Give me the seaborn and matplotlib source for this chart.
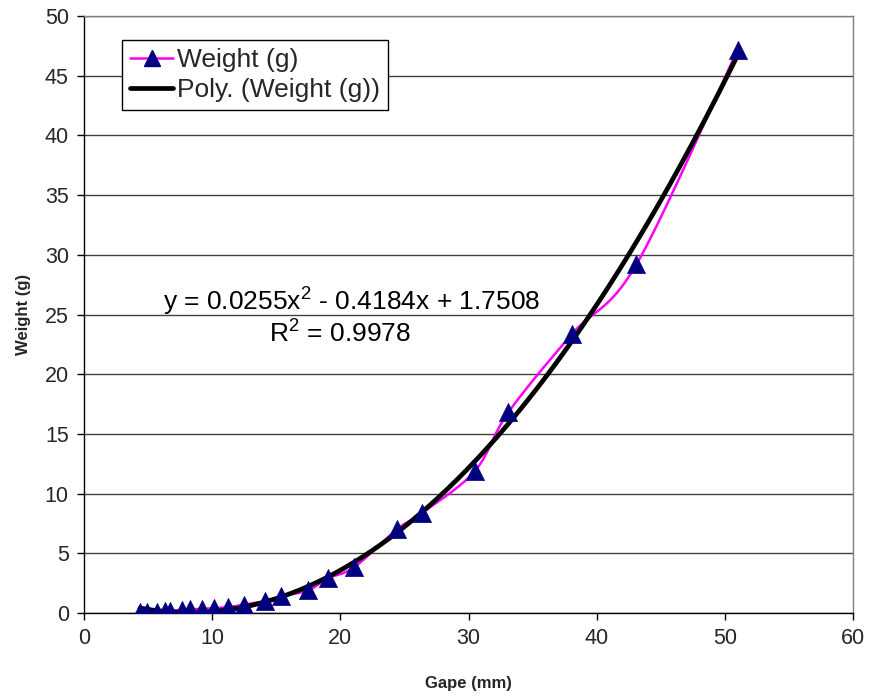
import numpy as np
import matplotlib
matplotlib.use("Agg")
import matplotlib.pyplot as plt
from matplotlib.lines import Line2D
import seaborn as sns

gape_mm = [4.37, 4.94, 5.72, 6.32, 6.71, 7.67, 8.29, 9.18, 10.14, 11.26, 12.5,
           14.1, 15.4, 17.5, 19.0, 21.1, 24.4, 26.4, 30.5, 33.1, 38.1, 43.1, 51.0]
weight_g = [0.05, 0.08, 0.12, 0.15, 0.2, 0.25, 0.3, 0.35, 0.4, 0.5, 0.7,
            1.0, 1.4, 1.9, 2.9, 3.85, 7.0, 8.4, 11.9, 16.8, 23.4, 29.2, 47.2]
poly_coef = [0.0255, -0.4184, 1.7508]
eq_text = "y = 0.0255x$^{2}$ - 0.4184x + 1.7508"
r2_text = "R$^{2}$ = 0.9978"

sns.set_theme(style="white")
plt.rcParams['font.family'] = ['Liberation Sans', 'DejaVu Sans']
plt.rcParams['mathtext.fontset'] = 'custom'
plt.rcParams['mathtext.rm'] = 'Liberation Sans'

fig = plt.figure(figsize=(8.7, 7), dpi=100)
ax = fig.add_axes([0.0966, 0.1243, 0.8839, 0.8527])

# Catmull-Rom smoothing of the data series (like Excel smoothed line)
def smooth(xs, ys, n=20):
    p = np.column_stack([xs, ys])
    p = np.vstack([p[0], p, p[-1]])
    out = []
    for i in range(1, len(p) - 2):
        p0, p1, p2, p3 = p[i - 1], p[i], p[i + 1], p[i + 2]
        t = np.linspace(0, 1, n, endpoint=False)[:, None]
        seg = 0.5 * ((2 * p1) + (-p0 + p2) * t + (2 * p0 - 5 * p1 + 4 * p2 - p3) * t ** 2
                     + (-p0 + 3 * p1 - 3 * p2 + p3) * t ** 3)
        out.append(seg)
    out.append(p[-2][None, :])
    out = np.vstack(out)
    return out[:, 0], out[:, 1]

sx, sy = smooth(np.array(gape_mm), np.array(weight_g))
ax.plot(sx, sy, color="#ff00ff", lw=1.8, zorder=3)

xf = np.linspace(min(gape_mm), max(gape_mm), 300)
yf = np.polyval(poly_coef, xf)
sns.lineplot(x=xf, y=yf, color="black", lw=3.4, ax=ax, zorder=4, sort=False)

sns.scatterplot(x=gape_mm, y=weight_g, marker="^", s=170, color="#000080",
                edgecolor="#000080", linewidth=0.5, ax=ax, zorder=5)

ax.set_xlim(0, 60)
ax.set_ylim(0, 50)
ax.set_xticks(np.arange(0, 61, 10))
ax.set_yticks(np.arange(0, 51, 5))
ax.grid(axis="y", color="#000000", lw=1.0, alpha=0.75)
ax.grid(axis="x", visible=False)
ax.tick_params(axis="both", direction="out", length=5, width=1, color="black",
               labelsize=15.5, pad=6, bottom=True, left=True)
for s in ["left", "bottom"]:
    ax.spines[s].set_color("black")
    ax.spines[s].set_linewidth(1.0)
for s in ["top", "right"]:
    ax.spines[s].set_color("#808080")
    ax.spines[s].set_linewidth(1.0)

ax.set_xlabel("Gape (mm)", fontsize=12, fontweight="bold", labelpad=19)
ax.set_ylabel("Weight (g)", fontsize=12, fontweight="bold", labelpad=10)

ax.text(20.9, 26.2, eq_text, fontsize=19, ha="center", va="center", color="black")
ax.text(20.0, 23.45, r2_text, fontsize=19, ha="center", va="center", color="black")

handles = [Line2D([], [], color="#ff00ff", lw=1.8, marker="^", markersize=12,
                  markerfacecolor="#000080", markeredgecolor="#000080"),
           Line2D([], [], color="black", lw=3.4)]
leg = ax.legend(handles, ["Weight (g)", "Poly. (Weight (g))"], loc="upper left",
                bbox_to_anchor=(0.0494, 0.96), fontsize=19, frameon=True,
                fancybox=False, edgecolor="black", framealpha=1,
                handlelength=1.65, handletextpad=0.15, borderpad=0.3,
                labelspacing=0.25, borderaxespad=0)
leg.get_frame().set_linewidth(1.0)

fig.savefig("out.png", dpi=100)
